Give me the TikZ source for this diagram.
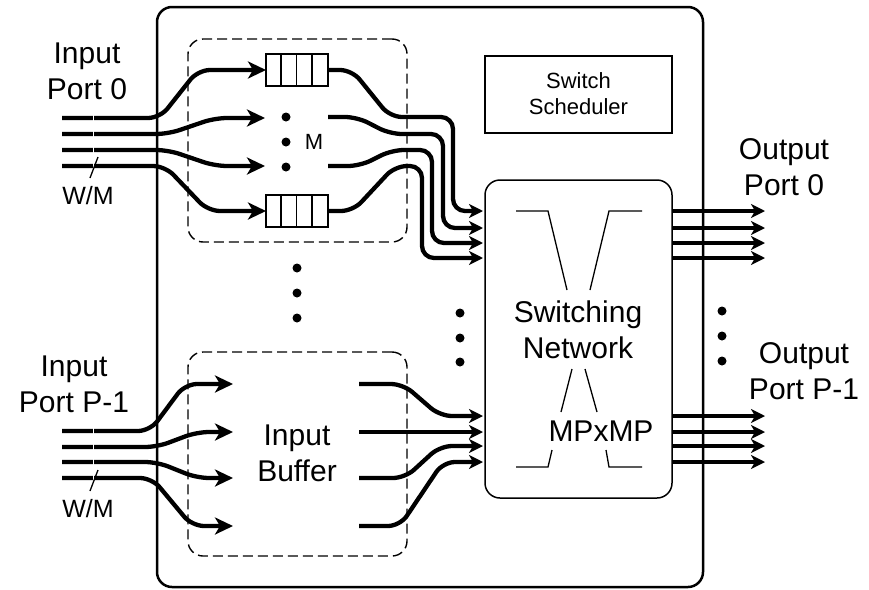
\documentclass[tikz,border=0pt]{standalone}
\usepackage{fontspec}
\setmainfont{Liberation Sans}
\usetikzlibrary{arrows.meta}
\begin{document}
\begin{tikzpicture}[x=1pt,y=-1pt,
  wire/.style={line width=4.3pt, rounded corners=12pt},
  warr/.style={wire, -{Stealth[length=18pt,width=17pt,inset=5pt]}},
  sarr/.style={line width=4.3pt, rounded corners=12pt, -{Stealth[length=14pt,width=14pt,inset=4pt]}},
  oarr/.style={line width=4.3pt, -{Stealth[length=14pt,width=14pt,inset=4pt]}},
  thinline/.style={line width=1.3pt},
  bigtext/.style={font=\fontsize{30}{36}\selectfont, align=center, inner sep=0pt},
  midtext/.style={font=\fontsize{25}{30}\selectfont, align=center, inner sep=0pt},
  smalltext/.style={font=\fontsize{22}{26.5}\selectfont, align=center, inner sep=0pt},
  dashbox/.style={draw, line width=1.4pt, dash pattern=on 10pt off 5pt, rounded corners=15pt, inner sep=0pt},
  queue/.style={draw, line width=1.3pt, minimum width=62pt, minimum height=32pt, inner sep=0pt},
  dotmark/.style={fill=black}
]
\useasboundingbox (0,0) rectangle (869,589);

% ---------- wires of input port 0 ----------
\draw[warr] (62,118) -- (160,118) -- (198,70) -- (266,70);
\draw[warr] (62,134) -- (168,134) -- (215,118) -- (265,118);
\draw[warr] (62,150) -- (168,150) -- (215,166) -- (265,166);
\draw[warr] (62,166) -- (165,166) -- (208,211) -- (266,211);
\draw[white, line width=0.7pt] (93,113) -- (93,171);
\draw[thinline] (98,157) -- (90,178);

% outputs of upper buffer to switching network
\draw[sarr] (328,70) -- (352,70) -- (390,117) -- (453,117) -- (453,211) -- (483,211);
\draw[sarr] (328,117) -- (357,117) -- (390,134) -- (443,134) -- (443,228) -- (483,228);
\draw[sarr] (328,166) -- (360,166) -- (392,150) -- (432,150) -- (432,243) -- (483,243);
\draw[sarr] (328,211) -- (353,211) -- (395,166) -- (422,166) -- (422,258) -- (483,258);

% ---------- wires of input port P-1 ----------
\draw[warr] (62,431) -- (150,431) -- (185,384) -- (233,384);
\draw[warr] (62,447) -- (157,447) -- (197,432) -- (233,432);
\draw[warr] (62,462) -- (157,462) -- (197,478) -- (233,478);
\draw[warr] (62,478) -- (152,478) -- (192,526) -- (233,526);
\draw[white, line width=0.7pt] (93,426) -- (93,483);
\draw[thinline] (98,470) -- (90,491);

% outputs of lower buffer
\draw[sarr] (359,384) -- (403,384) -- (440,416) -- (483,416);
\draw[sarr] (359,432) -- (483,432);
\draw[sarr] (359,478) -- (405,478) -- (440,446) -- (483,446);
\draw[sarr] (359,526) -- (400,526) -- (443,462) -- (483,462);

% ---------- output arrows ----------
\foreach \yy in {211,228,243,258} \draw[oarr] (672,\yy) -- (765,\yy);
\foreach \yy in {416,432,446,462} \draw[oarr] (672,\yy) -- (765,\yy);

% ---------- boxes ----------
\node[draw, line width=2.5pt, rounded corners=15pt, minimum width=546pt, minimum height=580pt, inner sep=0pt] (outer) at (430,297) {};
\node[dashbox, minimum width=219pt, minimum height=203pt] (ubuf) at (297.5,140.5) {};
\node[dashbox, minimum width=219pt, minimum height=204pt] (lbuf) at (297.5,454) {};
\node[draw, line width=1.5pt, rounded corners=15pt, minimum width=187pt, minimum height=318pt, inner sep=0pt] (sw) at (578.5,339) {};
\node[draw, line width=1.5pt, minimum width=187pt, minimum height=77pt, inner sep=0pt] (sched) at (578.5,94.5) {};
\node[smalltext] (schedtext) at (578.5,93.5) {Switch\\Scheduler};

\node[queue] (q1) at (297,70) {};
\node[queue] (q2) at (297,211) {};
\foreach \q in {q1,q2}
  \foreach \i in {1,2,3}
    \draw[thinline] ([xshift=\i*15.5pt]\q.north west) -- ([xshift=\i*15.5pt]\q.south west);

% ---------- crossbar sketch inside switching network ----------
\draw[thinline] (516,211) -- (548,211) -- (567,290);
\draw[thinline] (642,211) -- (609,211) -- (590,290);
\draw[thinline] (572,369) -- (561,412);
\draw[thinline] (585,369) -- (597,412);
\draw[thinline] (552,450) -- (548,467) -- (516,467);
\draw[thinline] (606,450) -- (609,467) -- (642,467);

% ---------- dots ----------
\foreach \yy in {117,142,167} \fill[dotmark] (286,\yy) circle[radius=4.5pt];
\foreach \yy in {268,293,318} \fill[dotmark] (297,\yy) circle[radius=4.5pt];
\foreach \yy in {313,338,362} \fill[dotmark] (460,\yy) circle[radius=4.5pt];
\foreach \yy in {311,336,361} \fill[dotmark] (722,\yy) circle[radius=4.5pt];

% ---------- texts ----------
\node[bigtext] (in0) at (87,71) {Input\\Port 0};
\node[midtext] (wm0) at (88,196) {W/M};
\node[bigtext] (inP) at (74,384) {Input\\Port P-1};
\node[midtext] (wmP) at (88,509) {W/M};
\node[smalltext] (mlabel) at (314,142) {M};
\node[bigtext] (buftext) at (297,453) {Input\\Buffer};
\node[bigtext] (swtext) at (578,330) {Switching\\Network};
\node[bigtext] (mp) at (601,431) {MPxMP};
\node[bigtext] (out0) at (784,167) {Output\\Port 0};
\node[bigtext] (outP) at (804,371) {Output\\Port P-1};
\end{tikzpicture}
\end{document}
